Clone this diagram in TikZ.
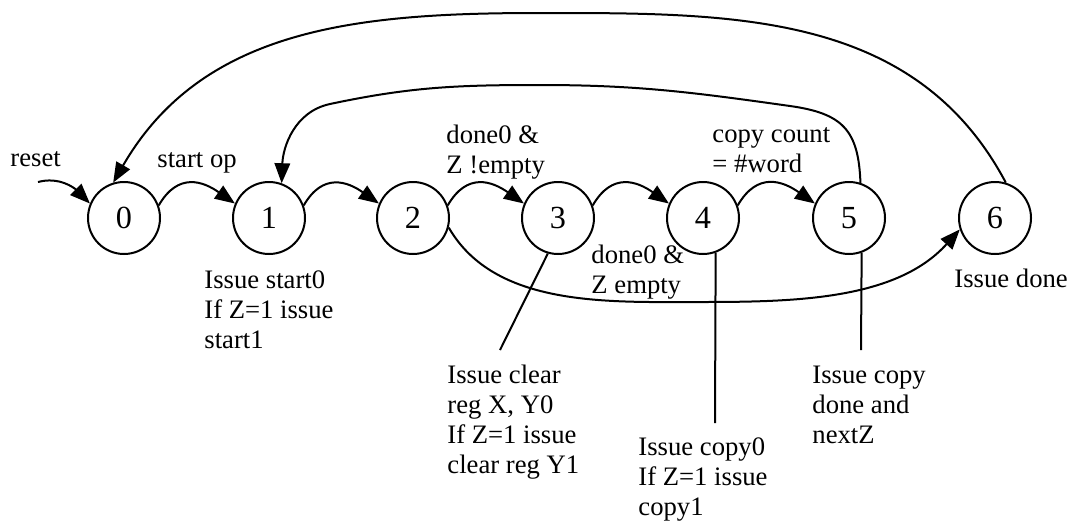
\documentclass[tikz,border=0pt]{standalone}
\usepackage{fontspec}
\setmainfont{Liberation Serif}
\usetikzlibrary{arrows.meta}

\begin{document}
\begin{tikzpicture}[
  x=0.45pt, y=0.45pt,
  state/.style={draw, circle, line width=0.9pt, minimum size=32.4pt, inner sep=0pt, font=\fontsize{14.5}{16}\selectfont},
  arrow/.style={-{Triangle[length=9pt, width=7pt]}, line width=0.9pt},
  pointer/.style={line width=0.9pt},
  note/.style={anchor=base west, align=left, inner sep=0pt, font=\fontsize{12}{13.5}\selectfont},
]
  \useasboundingbox (0,0) rectangle (1074,525);

  % States
  \node[state] (s0) at (124,307) {0};
  \node[state] (s1) at (269,307) {1};
  \node[state] (s2) at (413,307) {2};
  \node[state] (s3) at (558,307) {3};
  \node[state] (s4) at (703,307) {4};
  \node[state] (s5) at (849,307) {5};
  \node[state] (s6) at (995,307) {6};

  % Reset entry
  \coordinate (rst) at (38,343);
  \node[note] (lreset) at (10,359) {reset};
  \draw[arrow] (rst) to[out=15, in=135] (s0.157);

  % Forward transitions
  \draw[arrow] (s0.20) to[out=60, in=145, looseness=1.3] (s1.157);
  \draw[arrow] (s1.20) to[out=60, in=145, looseness=1.3] (s2.157);
  \draw[arrow] (s2.20) to[out=60, in=145, looseness=1.3] (s3.157);
  \draw[arrow] (s3.20) to[out=60, in=145, looseness=1.3] (s4.157);
  \draw[arrow] (s4.20) to[out=60, in=145, looseness=1.3] (s5.157);
  \draw[arrow] (s2.-15) to[out=-60, in=180, looseness=0.9] (700,223) to[out=0, in=228, looseness=0.9] (s6.198);

  % Return arcs
  \draw[arrow] (s5.72) to[out=92, in=-8, looseness=1.3] (790,419) to[out=172, in=0] (540,440)
    to[out=180, in=12] (330,421) to[out=192, in=88] (s1.70);
  \draw[arrow] (s6.73) to[out=118, in=0] (540,512) to[out=180, in=60] (s0.107);

  % Transition labels (base = last line)
  \node[note] (lstart) at (157,358) {start op};
  \node[note] (lnotempty) at (446,352) {done0 \&\\Z !empty};
  \node[note] (lcount) at (712,353) {copy count\\= \#word};
  \node[note] (lempty) at (591,232) {done0 \&\\Z empty};

  % Outputs of the states
  \node[note] (o1) at (204,177) {Issue start0\\If Z=1 issue\\start1};
  \node[note] (o3) at (447,52) {Issue clear\\reg X, Y0\\If Z=1 issue\\clear reg Y1};
  \node[note] (o4) at (638,10) {Issue copy0\\If Z=1 issue\\copy1};
  \node[note] (o5) at (812,82) {Issue copy\\done and\\nextZ};
  \node[note] (o6) at (954,238) {Issue done};

  \coordinate (c3) at (500,175);
  \coordinate (c4) at (715,102);
  \coordinate (c5) at (861,175);
  \draw[pointer] (s3.-106) -- (c3);
  \draw[pointer] (s4.-70) -- (c4);
  \draw[pointer] (s5.-70) -- (c5);
\end{tikzpicture}
\end{document}
